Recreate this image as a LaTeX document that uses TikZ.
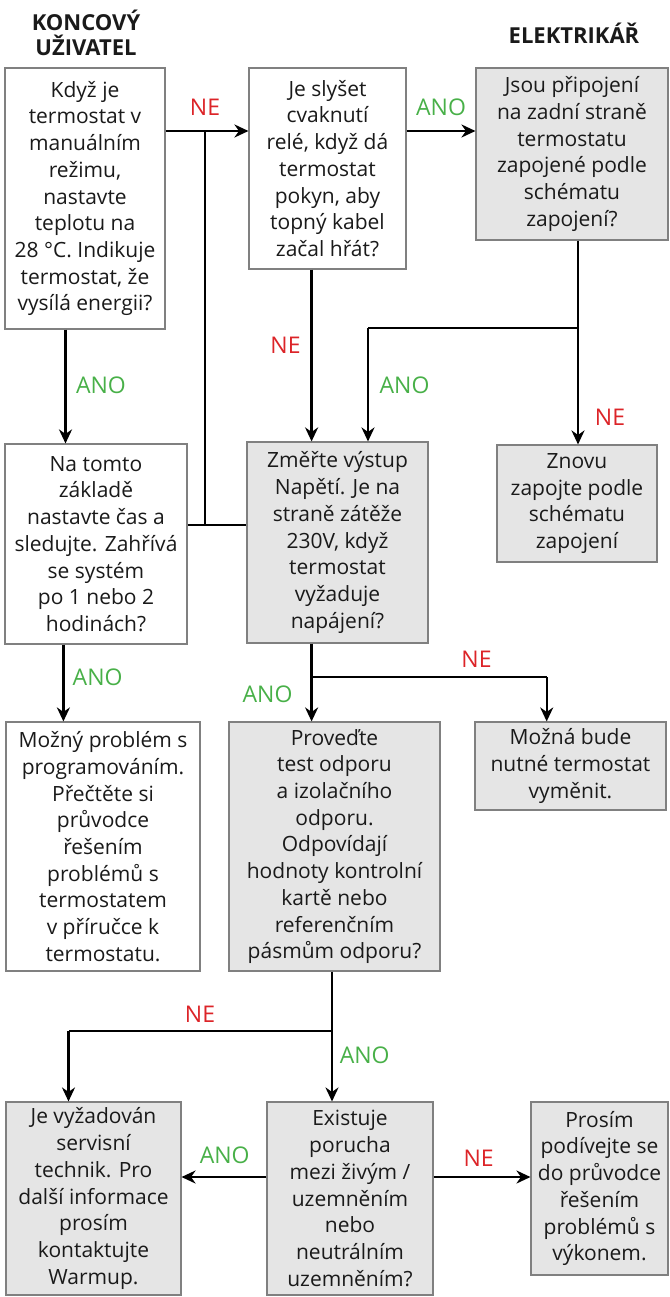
\documentclass[tikz,border=0pt]{standalone}
\usepackage{fontspec}
\setmainfont{Open Sans}
\usetikzlibrary{arrows.meta}
\definecolor{boxgray}{RGB}{229,229,229}
\definecolor{edgegray}{RGB}{128,128,128}
\definecolor{nered}{RGB}{220,36,40}
\definecolor{anogreen}{RGB}{72,176,72}
\definecolor{ink}{RGB}{26,26,26}
\tikzset{
  stepbox/.style={draw=edgegray, line width=1.1pt, fill=white, inner sep=0pt,
    align=center, text=ink, font=\fontsize{21}{26.7}\selectfont},
  graybox/.style={stepbox, fill=boxgray},
  wire/.style={line width=2.3pt, black},
  arr/.style={wire, -{Stealth[length=14pt,width=13pt,inset=4.5pt]}},
  nolabel/.style={text=nered, font=\fontsize{23}{26}\selectfont, inner sep=0pt},
  yeslabel/.style={text=anogreen, font=\fontsize{23}{26}\selectfont, inner sep=0pt},
  header/.style={font=\fontsize{22}{24.5}\selectfont\bfseries, align=center, text=ink, inner sep=0pt}
}
\begin{document}
\begin{tikzpicture}[x=1pt, y=-1pt]
\useasboundingbox (0,0) rectangle (669,1297);

% column headings
\node[header] (hUser) at (86,33) {KONCOVÝ\\UŽIVATEL};
\node[header] (hElec) at (574,33.5) {ELEKTRIKÁŘ};

% row 1
\node[stepbox, minimum width=160pt, minimum height=261pt] (A) at (85,198.5)
  {Když je\\termostat v\\manuálním\\režimu,\\nastavte\\teplotu na\\28 °C. Indikuje\\termostat, že\\vysílá energii?};
\node[stepbox, minimum width=157pt, minimum height=201pt] (B) at (327.5,168.5)
  {Je slyšet\\cvaknutí\\relé, když dá\\termostat\\pokyn, aby\\topný kabel\\začal hřát?};
\node[graybox, minimum width=192pt, minimum height=172pt] (C) at (572,154)
  {Jsou připojení\\na zadní straně\\termostatu\\zapojené podle\\schématu\\zapojení?};

% row 2
\node[stepbox, minimum width=182pt, minimum height=200pt] (D) at (96,544)
  {Na tomto\\základě\\nastavte čas a\\sledujte. Zahřívá\\se systém\\po 1 nebo 2\\hodinách?};
\node[graybox, minimum width=181pt, minimum height=201pt] (E) at (337.5,542.5)
  {Změřte výstup\\Napětí. Je na\\straně zátěže\\230V, když\\termostat\\vyžaduje\\napájení?};
\node[graybox, minimum width=160pt, minimum height=117pt] (F) at (577,503.5)
  {Znovu\\zapojte podle\\schématu\\zapojení};

% row 3
\node[stepbox, minimum width=194pt, minimum height=249pt] (G) at (103,846.5)
  {Možný problém s\\programováním.\\Přečtěte si\\průvodce\\řešením\\problémů s\\termostatem\\v příručce k\\termostatu.};
\node[graybox, minimum width=211pt, minimum height=249pt] (H) at (334.5,846.5)
  {Proveďte\\test odporu\\a izolačního\\odporu.\\Odpovídají\\hodnoty kontrolní\\kartě nebo\\referenčním\\pásmům odporu?};
\node[graybox, minimum width=191pt, minimum height=88pt] (I) at (570.5,766)
  {Možná bude\\nutné termostat\\vyměnit.};

% row 4
\node[graybox, minimum width=175pt, minimum height=193pt] (J) at (93.5,1198.5)
  {Je vyžadován\\servisní\\technik. Pro\\další informace\\prosím\\kontaktujte\\Warmup.};
\node[graybox, minimum width=166pt, minimum height=193pt] (K) at (350,1198.5)
  {Existuje\\porucha\\mezi živým /\\uzemněním\\nebo\\neutrálním\\uzemněním?};
\node[graybox, minimum width=137pt, minimum height=173pt] (L) at (599.5,1188.5)
  {Prosím\\podívejte se\\do průvodce\\řešením\\problémů s\\výkonem.};

% junction points
\coordinate (jTop) at (205,131);
\coordinate (jMid) at (205,525);
\coordinate (cSplit) at (578,328);
\coordinate (cTurn) at (368,328);
\coordinate (eSplit) at (311.6,677);
\coordinate (eTurn) at (546.7,677);
\coordinate (hSplit) at (332,1031);
\coordinate (hTurn) at (68.5,1031);

% connectors, row 1
\draw[arr] (A.east |- jTop) -- (B.west |- jTop);
\draw[arr] (B.east |- jTop) -- (C.west |- jTop);
\draw[wire] (jTop) -- (jMid);
\draw[wire] (D.east |- jMid) -- (E.west |- jMid);

% connectors, row 1 to row 2
\draw[arr] (A.south -| 65.5,0) -- (D.north -| 65.5,0);
\draw[arr] (B.south -| eSplit) -- (E.north -| eSplit);
\draw[arr] (C.south -| cSplit) -- (F.north -| cSplit);
\draw[wire] (cSplit) -- (cTurn);
\draw[arr] (cTurn) -- (E.north -| cTurn);

% connectors, row 2 to row 3
\draw[arr] (D.south -| 63.4,0) -- (G.north -| 63.4,0);
\draw[arr] (E.south -| eSplit) -- (H.north -| eSplit);
\draw[wire] (eSplit) -- (eTurn);
\draw[arr] (eTurn) -- (I.north -| eTurn);

% connectors, row 3 to row 4
\draw[arr] (H.south -| hSplit) -- (K.north -| hSplit);
\draw[wire] (hSplit) -- (hTurn);
\draw[arr] (hTurn) -- (J.north -| hTurn);
\draw[arr] (K.west |- 0,1177) -- (J.east |- 0,1177);
\draw[arr] (K.east |- 0,1177) -- (L.west |- 0,1177);

% answer labels
\node[nolabel]  (n1) at (205,107)   {NE};
\node[yeslabel] (y1) at (441,107)   {ANO};
\node[yeslabel] (y2) at (101,385)   {ANO};
\node[nolabel]  (n2) at (285.5,345) {NE};
\node[yeslabel] (y3) at (404.5,385) {ANO};
\node[nolabel]  (n3) at (610,417)   {NE};
\node[yeslabel] (y4) at (97.6,677)  {ANO};
\node[nolabel]  (n4) at (476.5,659) {NE};
\node[yeslabel] (y5) at (267.5,694) {ANO};
\node[nolabel]  (n5) at (200,1014)  {NE};
\node[yeslabel] (y6) at (364.7,1055) {ANO};
\node[yeslabel] (y7) at (224.7,1155) {ANO};
\node[nolabel]  (n6) at (478.6,1158) {NE};
\end{tikzpicture}
\end{document}
